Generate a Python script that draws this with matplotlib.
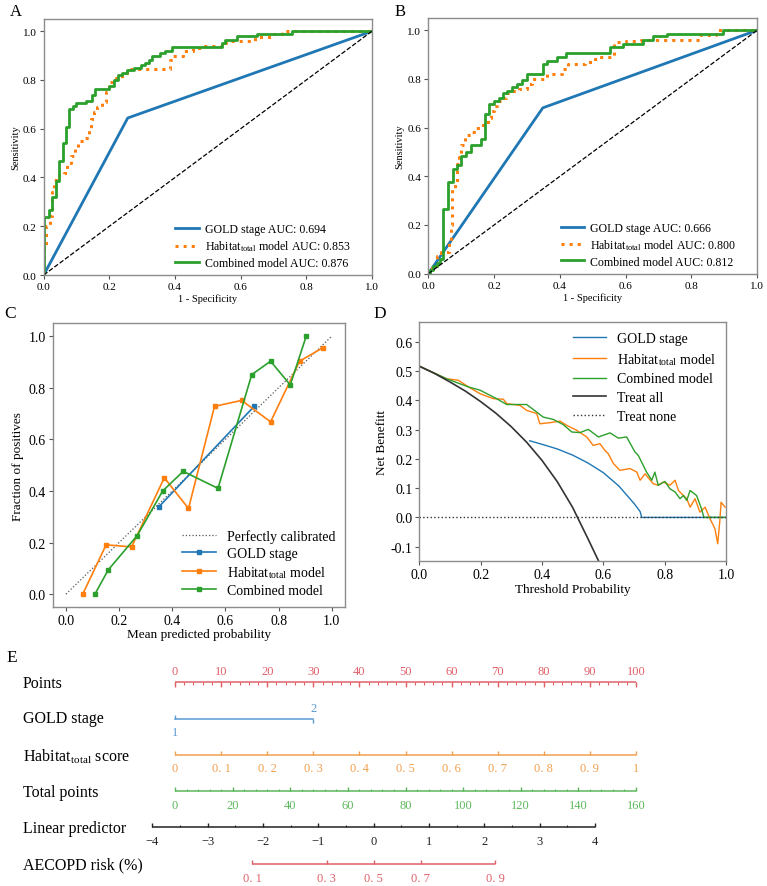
import numpy as np
import matplotlib
matplotlib.use('Agg')
import matplotlib.pyplot as plt

plt.rcParams['font.family'] = ['Liberation Serif', 'DejaVu Serif']
plt.rcParams['mathtext.fontset'] = 'stix'

# ---------------- data ----------------
# ROC, training set (A): step-corner points (fpr, tpr)
roc_a_gold_fpr = [0, 0.256, 1.0]
roc_a_gold_tpr = [0, 0.644, 1.0]
roc_a_hab_fpr = [0, 0, 0.008, 0.018, 0.025, 0.032, 0.048, 0.062, 0.072, 0.082, 0.095, 0.105,
                 0.125, 0.138, 0.143, 0.152, 0.162, 0.178, 0.19, 0.198, 0.208, 0.22, 0.24,
                 0.265, 0.385, 0.395, 0.425, 0.455, 0.48, 0.545, 0.555, 0.645, 0.70, 0.725, 1.0]
roc_a_hab_tpr = [0, 0.12, 0.20, 0.24, 0.34, 0.39, 0.41, 0.42, 0.46, 0.49, 0.52, 0.55,
                 0.56, 0.60, 0.64, 0.67, 0.69, 0.71, 0.75, 0.79, 0.80, 0.81, 0.83,
                 0.845, 0.88, 0.90, 0.92, 0.93, 0.94, 0.95, 0.96, 0.975, 0.99, 1.0, 1.0]
roc_a_comb_fpr = [0, 0, 0.017, 0.026, 0.037, 0.047, 0.058, 0.068, 0.077, 0.088, 0.098, 0.129,
                  0.146, 0.156, 0.200, 0.214, 0.227, 0.240, 0.255, 0.275, 0.295, 0.310, 0.320,
                  0.330, 0.355, 0.370, 0.390, 0.542, 0.552, 0.588, 0.649, 0.755, 1.0]
roc_a_comb_tpr = [0, 0.237, 0.268, 0.321, 0.387, 0.469, 0.542, 0.607, 0.681, 0.692, 0.706, 0.715,
                  0.740, 0.763, 0.774, 0.800, 0.820, 0.830, 0.840, 0.850, 0.860, 0.870, 0.880,
                  0.900, 0.910, 0.920, 0.937, 0.950, 0.962, 0.980, 0.990, 1.0, 1.0]

# ROC, validation set (B)
roc_b_gold_fpr = [0, 0.348, 1.0]
roc_b_gold_tpr = [0, 0.681, 1.0]
roc_b_hab_fpr = [0, 0.01, 0.025, 0.04, 0.062, 0.068, 0.073, 0.08, 0.088, 0.094, 0.10, 0.112,
                 0.13, 0.145, 0.16, 0.18, 0.19, 0.20, 0.21, 0.22, 0.235, 0.255, 0.275, 0.30,
                 0.315, 0.36, 0.405, 0.425, 0.475, 0.50, 0.52, 0.565, 0.60, 0.645, 0.825,
                 0.875, 1.0]
roc_b_hab_tpr = [0, 0.03, 0.074, 0.088, 0.13, 0.20, 0.35, 0.37, 0.45, 0.48, 0.53, 0.57,
                 0.58, 0.60, 0.61, 0.64, 0.67, 0.69, 0.71, 0.72, 0.74, 0.75, 0.76, 0.78,
                 0.80, 0.82, 0.84, 0.86, 0.87, 0.88, 0.89, 0.95, 0.955, 0.96, 0.98,
                 1.0, 1.0]
roc_b_comb_fpr = [0, 0.005, 0.015, 0.025, 0.035, 0.046, 0.061, 0.074, 0.088, 0.10, 0.115, 0.13,
                  0.16, 0.172, 0.185, 0.20, 0.215, 0.228, 0.24, 0.255, 0.27, 0.285, 0.30,
                  0.35, 0.362, 0.39, 0.42, 0.552, 0.593, 0.654, 0.683, 0.725, 0.897, 1.0]
roc_b_comb_tpr = [0, 0.015, 0.03, 0.045, 0.06, 0.265, 0.375, 0.43, 0.447, 0.485, 0.50, 0.53,
                  0.555, 0.655, 0.695, 0.71, 0.72, 0.74, 0.75, 0.765, 0.78, 0.795, 0.82,
                  0.86, 0.875, 0.89, 0.905, 0.93, 0.945, 0.96, 0.975, 0.985, 1.0, 1.0]
roc_a_auc = [0.694, 0.853, 0.876]
roc_b_auc = [0.666, 0.800, 0.812]

# Calibration (C)
cal_gold_x = [0.35, 0.709]
cal_gold_y = [0.339, 0.729]
cal_hab_x = [0.063, 0.151, 0.247, 0.370, 0.461, 0.559, 0.661, 0.770, 0.879, 0.966]
cal_hab_y = [0.0, 0.191, 0.183, 0.451, 0.332, 0.728, 0.751, 0.668, 0.903, 0.955]
cal_comb_x = [0.109, 0.159, 0.268, 0.364, 0.441, 0.572, 0.699, 0.770, 0.844, 0.904]
cal_comb_y = [0.0, 0.094, 0.227, 0.400, 0.476, 0.410, 0.851, 0.903, 0.811, 1.0]

# Decision curve (D)
dca_all_x = [0, 0.05, 0.10, 0.15, 0.20, 0.25, 0.30, 0.35, 0.40, 0.45, 0.50, 0.55, 0.585]
dca_all_y = [0.517, 0.492, 0.463, 0.432, 0.396, 0.356, 0.310, 0.257, 0.195, 0.122, 0.034, -0.073, -0.15]
dca_gold_x = [0.36, 0.40, 0.45, 0.50, 0.55, 0.60, 0.65, 0.70, 0.72, 0.725, 1.0]
dca_gold_y = [0.262, 0.250, 0.234, 0.213, 0.186, 0.153, 0.108, 0.048, 0.020, 0.0, 0.0]
dca_hab_x = [0, 0.089, 0.127, 0.165, 0.198, 0.241, 0.274, 0.285, 0.328, 0.35, 0.383, 0.393,
             0.426, 0.459, 0.48, 0.513, 0.546, 0.567, 0.589, 0.605, 0.616, 0.633, 0.654,
             0.687, 0.709, 0.72, 0.736, 0.763, 0.779, 0.796, 0.817, 0.834, 0.845, 0.861,
             0.872, 0.883, 0.899, 0.915, 0.932, 0.948, 0.964, 0.973, 0.98, 0.984, 0.997]
dca_hab_y = [0.517, 0.474, 0.469, 0.443, 0.423, 0.406, 0.404, 0.389, 0.383, 0.366, 0.355, 0.320,
             0.324, 0.329, 0.315, 0.298, 0.275, 0.246, 0.252, 0.229, 0.218, 0.184, 0.161,
             0.167, 0.155, 0.127, 0.149, 0.115, 0.110, 0.121, 0.110, 0.127, 0.092, 0.075,
             0.064, 0.035, 0.064, 0.018, 0.035, -0.005, -0.039, -0.090, -0.010, 0.052, 0.035]
dca_comb_x = [0, 0.089, 0.16, 0.198, 0.252, 0.285, 0.35, 0.383, 0.404, 0.437, 0.47, 0.497,
              0.524, 0.551, 0.584, 0.622, 0.649, 0.676, 0.703, 0.714, 0.741, 0.758, 0.768,
              0.779, 0.801, 0.817, 0.834, 0.85, 0.861, 0.872, 0.883, 0.904, 0.92, 0.928, 1.0]
dca_comb_y = [0.517, 0.474, 0.446, 0.435, 0.406, 0.386, 0.386, 0.360, 0.343, 0.335, 0.317, 0.292,
              0.290, 0.301, 0.275, 0.289, 0.271, 0.275, 0.224, 0.212, 0.155, 0.127, 0.155,
              0.110, 0.123, 0.098, 0.087, 0.064, 0.075, 0.058, 0.092, 0.075, 0.030, 0.0, 0.0]

# Nomogram (E)
points_ticks = list(range(0, 101, 10))
gold_levels = ['1', '2']
gold_points = [0, 30]
habitat_values = [0, 0.1, 0.2, 0.3, 0.4, 0.5, 0.6, 0.7, 0.8, 0.9, 1.0]
habitat_labels = ['0', '0. 1', '0. 2', '0. 3', '0. 4', '0. 5', '0. 6', '0. 7', '0. 8', '0. 9', '1']
total_ticks = list(range(0, 161, 20))
lp_ticks = [-4, -3, -2, -1, 0, 1, 2, 3, 4]
risk_values = [0.1, 0.3, 0.5, 0.7, 0.9]
risk_labels = ['0. 1', '0. 3', '0. 5', '0. 7', '0. 9']
lp_at_total0 = -3.59   # linear predictor where total points = 0
lp_at_total160 = 4.74  # linear predictor where total points = 160

W, H = 767, 887
fig = plt.figure(figsize=(W / 100, H / 100), dpi=100)


def add_ax(l, t, r, b):
    return fig.add_axes([l / W, 1 - b / H, (r - l) / W, (b - t) / H])


def style(ax, size):
    for s in ax.spines.values():
        s.set_color('#8c8c8c')
        s.set_linewidth(1.0)
    ax.tick_params(labelsize=size, length=3, width=0.8, color='#555555', pad=2)


c_blue, c_orange, c_green = '#1f77b4', '#ff7f0e', '#2ca02c'
hab_label = r'Habitat$_{\mathregular{total}}$'

# ---------------- A & B: ROC ----------------
for ax_box, data, aucs, letter in [
        ((43.7, 20, 372, 276),
         (roc_a_gold_fpr, roc_a_gold_tpr, roc_a_hab_fpr, roc_a_hab_tpr, roc_a_comb_fpr, roc_a_comb_tpr),
         roc_a_auc, 'A'),
        ((428.3, 19, 757.3, 274.7),
         (roc_b_gold_fpr, roc_b_gold_tpr, roc_b_hab_fpr, roc_b_hab_tpr, roc_b_comb_fpr, roc_b_comb_tpr),
         roc_b_auc, 'B')]:
    ax = add_ax(*ax_box)
    gx, gy, hx, hy, cx, cy = data
    ax.plot(gx, gy, color=c_blue, lw=2, label=f'GOLD stage AUC: {aucs[0]:.3f}')
    ax.plot(hx, hy, color=c_orange, lw=2.2, ls=':', drawstyle='steps-post',
            label=hab_label + f' model AUC: {aucs[1]:.3f}')
    ax.plot(cx, cy, color=c_green, lw=2, drawstyle='steps-post',
            label=f'Combined model AUC: {aucs[2]:.3f}')
    ax.plot([0, 1], [0, 1], 'k--', lw=0.9)
    ax.set_xlim(0, 1)
    ax.set_ylim(0, 1.05)
    ax.set_xticks([0, 0.2, 0.4, 0.6, 0.8, 1.0])
    ax.set_yticks([0, 0.2, 0.4, 0.6, 0.8, 1.0])
    style(ax, 8)
    ax.set_xlabel('1 - Specificity', fontsize=7.5, labelpad=2)
    ax.set_ylabel('Sensitivity', fontsize=7.5, labelpad=2)
    ax.legend(loc='lower right', bbox_to_anchor=(0.95, 0.005), frameon=False, fontsize=8.6,
              handlelength=2.0, handletextpad=0.5, borderaxespad=0, labelspacing=0.3)
    fig.text((ax_box[0] - 34) / W, 1 - 12 / H, letter, fontsize=12, va='center')

# ---------------- C: calibration ----------------
ax = add_ax(52.7, 324.3, 345, 608)
ax.plot([0, 1], [0, 1], ':', color='#555555', lw=0.9, label='Perfectly calibrated')
ax.plot(cal_gold_x, cal_gold_y, 's-', color=c_blue, lw=1.2, ms=3, label='GOLD stage')
ax.plot(cal_hab_x, cal_hab_y, 's-', color=c_orange, lw=1.2, ms=3, label=hab_label + ' model')
ax.plot(cal_comb_x, cal_comb_y, 's-', color=c_green, lw=1.2, ms=3, label='Combined model')
ax.set_xlim(-0.05, 1.05)
ax.set_ylim(-0.05, 1.05)
ax.set_xticks([0, 0.2, 0.4, 0.6, 0.8, 1.0])
ax.set_yticks([0, 0.2, 0.4, 0.6, 0.8, 1.0])
style(ax, 10)
ax.set_xlabel('Mean predicted probability', fontsize=9.5, labelpad=1)
ax.set_ylabel('Fraction of positives', fontsize=9.5, labelpad=3)
ax.legend(loc='lower right', frameon=False, fontsize=10, handlelength=2.4,
          borderaxespad=0.3, labelspacing=0.3)
fig.text(4 / W, 1 - 314 / H, 'C', fontsize=12.5, va='center')

# ---------------- D: decision curve ----------------
ax = add_ax(419.3, 323.3, 726, 562.3)
ax.plot(dca_gold_x, dca_gold_y, color=c_blue, lw=1, label='GOLD stage')
ax.plot(dca_hab_x, dca_hab_y, color=c_orange, lw=1, label=hab_label + ' model')
ax.plot(dca_comb_x, dca_comb_y, color=c_green, lw=1, label='Combined model')
ax.plot(dca_all_x, dca_all_y, color='#333333', lw=1.2, label='Treat all')
ax.plot([0, 1], [0, 0], ':', color='#333333', lw=1, label='Treat none')
ax.set_xlim(0, 1)
ax.set_ylim(-0.15, 0.667)
ax.set_xticks([0, 0.2, 0.4, 0.6, 0.8, 1.0])
ax.set_yticks([-0.1, 0, 0.1, 0.2, 0.3, 0.4, 0.5, 0.6])
ax.set_yticklabels(['-0.1', '0.0', '0.1', '0.2', '0.3', '0.4', '0.5', '0.6'])
style(ax, 10)
ax.set_xlabel('Threshold Probability', fontsize=9.5, labelpad=1)
ax.set_ylabel('Net Benefitt', fontsize=9.5, labelpad=2)
ax.legend(loc='upper right', frameon=False, fontsize=10, handlelength=2.4,
          borderaxespad=0.3, labelspacing=0.42)
fig.text(373 / W, 1 - 314 / H, 'D', fontsize=12.5, va='center')

# ---------------- E: nomogram ----------------
nax = fig.add_axes([0, 0, 1, (H - 640) / H])
px0, px_per_pt = 175.0, 4.61
nax.set_xlim(-px0 / px_per_pt, (W - px0) / px_per_pt)
nax.set_ylim(H, 640)
nax.axis('off')

c_red, c_lblue, c_lorange, c_lgreen = '#e0606a', '#5a9bd3', '#f0a050', '#5cb85c'
lab_x = (23 - px0) / px_per_pt
row_font = 11.5
tick_font = 9


def total_to_pts(t):
    return np.asarray(t, dtype=float) * 100 / 160


def lp_to_pts(v):
    v = np.asarray(v, dtype=float)
    return total_to_pts((v - lp_at_total0) / (lp_at_total160 - lp_at_total0) * 160)


def scale(y, pos, labels, color, major_len, minor_pos=None, minor_len=2.5, down=False,
          lab_above=False, lo=None, hi=None):
    lo = min(pos) if lo is None else lo
    hi = max(pos) if hi is None else hi
    nax.plot([lo, hi], [y, y], color=color, lw=1.1, solid_capstyle='butt')
    sgn = 1 if down else -1
    nax.vlines(pos, y, y + sgn * major_len, color=color, lw=1.0)
    if minor_pos is not None:
        nax.vlines(minor_pos, y, y + sgn * minor_len, color=color, lw=0.8)
    for p, s in zip(pos, labels):
        ty = y - 11 if lab_above else y + 13.5
        nax.text(p, ty, s, color=color, fontsize=tick_font, ha='center', va='center')


# Points
y_pts = 683.3
scale(y_pts, points_ticks, [str(v) for v in points_ticks], c_red, 4.2,
      minor_pos=list(range(0, 101, 2)), minor_len=2.5, down=True, lab_above=True)
nax.text(lab_x, 684, 'Points', fontsize=row_font, va='center')

# GOLD stage
y_gold = 720.3
nax.plot(gold_points, [y_gold, y_gold], color=c_lblue, lw=1.1)
nax.vlines(gold_points[0], y_gold, y_gold - 4, color=c_lblue, lw=1.0)
nax.vlines(gold_points[1], y_gold, y_gold + 4, color=c_lblue, lw=1.0)
nax.text(gold_points[0], y_gold + 12.5, gold_levels[0], color=c_lblue, fontsize=tick_font,
         ha='center', va='center')
nax.text(gold_points[1], y_gold - 11, gold_levels[1], color=c_lblue, fontsize=tick_font,
         ha='center', va='center')
nax.text(lab_x, 719, 'GOLD stage', fontsize=row_font, va='center')

# Habitat total score
y_hab = 755.7
scale(y_hab, [v * 100 for v in habitat_values], habitat_labels, c_lorange, 4.2)
nax.text(lab_x, 756.5, r'Habitat$_{\mathregular{total}}$ score', fontsize=row_font, va='center')

# Total points
y_tot = 792.3
scale(y_tot, total_to_pts(total_ticks), [str(v) for v in total_ticks], c_lgreen, 4.2,
      minor_pos=total_to_pts(list(range(0, 161, 4))))
nax.text(lab_x, 793, 'Total points', fontsize=row_font, va='center')

# Linear predictor
y_lp = 828.3
scale(y_lp, lp_to_pts(lp_ticks), [str(v).replace('-', '\u2212') for v in lp_ticks], '#222222', 4.2,
      minor_pos=lp_to_pts([v + 0.5 for v in lp_ticks[:-1]]))
nax.text(lab_x, 829.5, 'Linear predictor', fontsize=row_font, va='center')

# AECOPD risk
y_risk = 865.3
risk_lp = [np.log(r / (1 - r)) for r in risk_values]
scale(y_risk, lp_to_pts(risk_lp), risk_labels, c_red, 4.2)
nax.text(lab_x, 865.3, 'AECOPD risk (%)', fontsize=row_font, va='center')

fig.text(6 / W, 1 - 658 / H, 'E', fontsize=12.5, va='center')

fig.savefig('out.png', dpi=100)
